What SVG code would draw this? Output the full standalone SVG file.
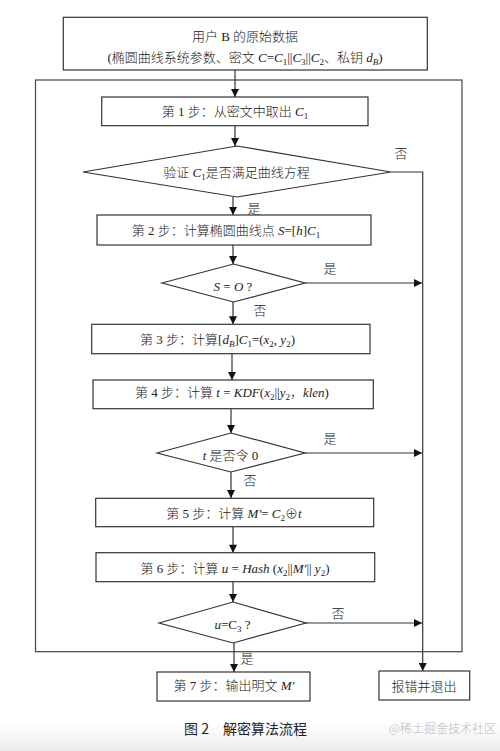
<svg xmlns="http://www.w3.org/2000/svg" width="500" height="751" viewBox="0 0 500 751">
<defs>
<marker id="arr" viewBox="0 0 10 10" refX="10" refY="5" markerWidth="9" markerHeight="8" markerUnits="userSpaceOnUse" orient="auto">
<path d="M0,0 L10,5 L0,10 z" fill="#111"/>
</marker>
<linearGradient id="bot" x1="0" y1="0" x2="0" y2="1">
<stop offset="0" stop-color="#ffffff"/>
<stop offset="1" stop-color="#ececec"/>
</linearGradient>
<style>
.box{fill:#fff;stroke:#333;stroke-width:1.2}
.frame{fill:none;stroke:#444;stroke-width:1.2}
.ln{fill:none;stroke:#333;stroke-width:1.2}
.ar{fill:none;stroke:#333;stroke-width:1.2;marker-end:url(#arr)}
text{font-family:"Liberation Serif","Noto Sans CJK SC",serif;font-size:13px;fill:#222;font-weight:300}
.c{text-anchor:middle}
.i{font-style:italic}
.s{font-size:9px}
.cap{font-family:"Noto Sans CJK SC","Liberation Sans",sans-serif;font-size:14px;font-weight:400;fill:#222}
.wm{font-family:"Noto Sans CJK SC","Liberation Sans",sans-serif;font-size:12px;fill:#bbb;font-weight:300}
</style>
</defs>
<rect x="0" y="0" width="500" height="751" fill="#fff"/>
<rect x="0" y="722" width="500" height="29" fill="url(#bot)"/>

<g id="frame"><rect class="frame" x="35.5" y="80" width="426.5" height="571.7"/></g>

<g id="connectors">
<line class="ar" x1="235" y1="70" x2="235" y2="97"/>
<line class="ar" x1="235" y1="125.7" x2="235" y2="146"/>
<line class="ar" x1="233" y1="197" x2="233" y2="215"/>
<line class="ar" x1="233" y1="245" x2="233" y2="264"/>
<line class="ar" x1="233" y1="302" x2="233" y2="324.3"/>
<line class="ar" x1="232" y1="353.7" x2="232" y2="380"/>
<line class="ar" x1="231" y1="408.7" x2="231" y2="433"/>
<line class="ar" x1="231" y1="472" x2="231" y2="498"/>
<line class="ar" x1="233" y1="527" x2="233" y2="552.7"/>
<line class="ar" x1="233" y1="581.7" x2="233" y2="602"/>
<line class="ar" x1="234" y1="643" x2="234" y2="672"/>
<polyline class="ar" points="391,172 422.7,172 422.7,671"/>
<line class="ar" x1="305" y1="283" x2="422" y2="283"/>
<line class="ar" x1="305" y1="453" x2="422" y2="453"/>
<line class="ar" x1="306" y1="623" x2="422" y2="623"/>
<text class="c" x="401" y="157.5">否</text>
<text class="c" x="254" y="212.5">是</text>
<text class="c" x="330" y="272.5">是</text>
<text class="c" x="260" y="314.5">否</text>
<text class="c" x="330" y="442.5">是</text>
<text class="c" x="250" y="484.5">否</text>
<text class="c" x="338" y="617.5">否</text>
<text class="c" x="247" y="662.5">是</text>
</g>

<g id="start">
<rect class="box" x="63.3" y="17.3" width="364" height="52.7"/>
<text class="c" x="245" y="41">用户 B 的原始数据</text>
<text class="c" x="245" y="62">(椭圆曲线系统参数、密文 <tspan class="i">C</tspan>=<tspan class="i">C</tspan><tspan class="s" dy="3">1</tspan><tspan dy="-3">||</tspan><tspan class="i">C</tspan><tspan class="s" dy="3">3</tspan><tspan dy="-3">||</tspan><tspan class="i">C</tspan><tspan class="s" dy="3">2</tspan><tspan dy="-3">、私钥 </tspan><tspan class="i">d</tspan><tspan class="s i" dy="3">B</tspan><tspan dy="-3">)</tspan></text>
</g>

<g id="step1">
<rect class="box" x="101.7" y="97" width="266.3" height="28.7"/>
<text class="c" x="235" y="115.5">第 1 步：从密文中取出 <tspan class="i">C</tspan><tspan class="s" dy="3">1</tspan></text>
</g>

<g id="check1">
<polygon class="box" points="83,172 237,146 391,172 237,197"/>
<text class="c" x="236.5" y="176.5">验证 <tspan class="i">C</tspan><tspan class="s" dy="3">1</tspan><tspan dy="-3">是否满足曲线方程</tspan></text>
</g>

<g id="step2">
<rect class="box" x="97" y="215" width="274" height="30"/>
<text class="c" x="226" y="234.5">第 2 步：计算椭圆曲线点 <tspan class="i">S</tspan>=[<tspan class="i">h</tspan>]<tspan class="i">C</tspan><tspan class="s" dy="3">1</tspan></text>
</g>

<g id="check2">
<polygon class="box" points="162,283 233.5,264 305,283 233.5,302"/>
<text class="c" x="233" y="291"><tspan class="i">S</tspan> = <tspan class="i">O</tspan> ?</text>
</g>

<g id="step3">
<rect class="box" x="91.7" y="324.3" width="278.3" height="29.4"/>
<text class="c" x="217.5" y="344">第 3 步：计算[<tspan class="i">d</tspan><tspan class="s i" dy="3">B</tspan><tspan dy="-3">]</tspan><tspan class="i">C</tspan><tspan class="s" dy="3">1</tspan><tspan dy="-3">=(</tspan><tspan class="i">x</tspan><tspan class="s" dy="3">2</tspan><tspan dy="-3">, </tspan><tspan class="i">y</tspan><tspan class="s" dy="3">2</tspan><tspan dy="-3">)</tspan></text>
</g>

<g id="step4">
<rect class="box" x="93" y="380" width="280.3" height="28.7"/>
<text class="c" x="232" y="397">第 4 步：计算 <tspan class="i">t</tspan> = <tspan class="i">KDF</tspan>(<tspan class="i">x</tspan><tspan class="s" dy="3">2</tspan><tspan dy="-3">||</tspan><tspan class="i">y</tspan><tspan class="s" dy="3">2</tspan><tspan dy="-3">，</tspan><tspan class="i">klen</tspan>)</text>
</g>

<g id="check3">
<polygon class="box" points="157,453 231,433 305,453 231,472"/>
<text class="c" x="230.5" y="460"><tspan class="i">t</tspan> 是否令 0</text>
</g>

<g id="step5">
<rect class="box" x="95.7" y="498.3" width="278" height="28.4"/>
<text class="c" x="234" y="518">第 5 步：计算 <tspan class="i">M′</tspan>= <tspan class="i">C</tspan><tspan class="s" dy="3">2</tspan><tspan dy="-3">⊕</tspan><tspan class="i">t</tspan></text>
</g>

<g id="step6">
<rect class="box" x="96" y="552.7" width="278.7" height="29"/>
<text class="c" x="235" y="573">第 6 步：计算 <tspan class="i">u</tspan> = <tspan class="i">Hash</tspan> (<tspan class="i">x</tspan><tspan class="s" dy="3">2</tspan><tspan dy="-3">||</tspan><tspan class="i">M′</tspan>|| <tspan class="i">y</tspan><tspan class="s" dy="3">2</tspan><tspan dy="-3">)</tspan></text>
</g>

<g id="check4">
<polygon class="box" points="159,623 233,602 306,623 233,643"/>
<text class="c" x="232.5" y="629"><tspan class="i">u</tspan>=C<tspan class="s" dy="3">3</tspan><tspan dy="-3"> ?</tspan></text>
</g>

<g id="step7">
<rect class="box" x="157" y="672" width="153" height="29"/>
<text class="c" x="234" y="690">第 7 步：输出明文 <tspan class="i">M′</tspan></text>
</g>

<g id="error">
<rect class="box" x="379" y="671" width="90.7" height="29"/>
<text class="c" x="424" y="690.5">报错并退出</text>
</g>

<g id="caption">
<text class="cap c" x="245.5" y="734">图 2　解密算法流程</text>
<text class="wm" x="389" y="733">@稀土掘金技术社区</text>
</g>
</svg>
